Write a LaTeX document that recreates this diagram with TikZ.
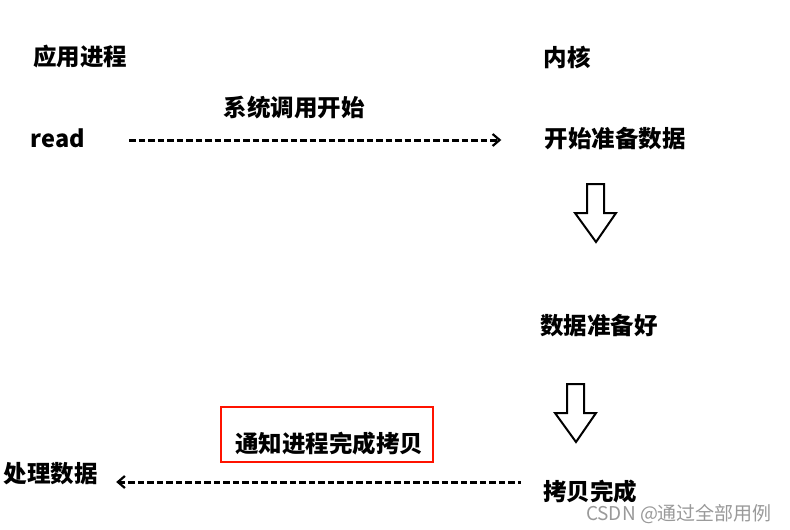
\documentclass[tikz,border=0pt]{standalone}
\usepackage{fontspec}
\setmainfont{Noto Sans CJK SC}
\usetikzlibrary{arrows.meta}
\tikzset{
  lbl/.style={font=\fontsize{23.5}{26}\selectfont\bfseries, inner sep=0pt},
  dashline/.style={line width=3pt, dash pattern=on 6.5pt off 3pt},
  blockarrow/.style={draw, line width=2pt, fill=white, line join=miter},
}
\newcommand{\downblock}[2]{% top centre x, top y
  \draw[blockarrow] (#1-9,#2) -- (#1+8,#2) -- (#1+8,#2+29) -- (#1+20,#2+29)
    -- (#1,#2+58) -- (#1-21,#2+29) -- (#1-9,#2+29) -- cycle;}
\begin{document}
\begin{tikzpicture}[x=1pt,y=-1pt]
  \useasboundingbox (0,0) rectangle (790,530);
  \draw
    (80,57) node[lbl] (proc){应用进程}
    (567,57) node[lbl] (kern){内核}
    (294,108) node[lbl] (call){系统调用开始}
    (58,138) node[lbl] (read){read}
    (615,139) node[lbl] (prep){开始准备数据}
    (599,326) node[lbl] (ready){数据准备好}
    (329,444) node[lbl] (note){通知进程完成拷贝}
    (51,474) node[lbl] (handle){处理数据}
    (590,492) node[lbl] (done){拷贝完成};
  \node[inner sep=0pt, text=black!40, font=\fontsize{19}{22}\selectfont] (mark) at (679,514) {CSDN @通过全部用例};
  \begin{scope}[dashline]
    \draw[-{Straight Barb[length=7pt,width=12pt,line width=2.2pt]}]
      (read.east) ++(44,2) -- ([xshift=-43pt,yshift=-1pt]prep.west);
    \draw[{Straight Barb[length=7pt,width=12pt,line width=2.2pt]}-]
      ([xshift=18pt,yshift=-8pt]handle.east) -- ([xshift=-22pt,yshift=10pt]done.west);
  \end{scope}
  \downblock{596}{184}
  \downblock{576}{384}
  \draw[red!85!orange, line width=2.5pt] (221,407) rectangle (433,462);
\end{tikzpicture}
\end{document}
